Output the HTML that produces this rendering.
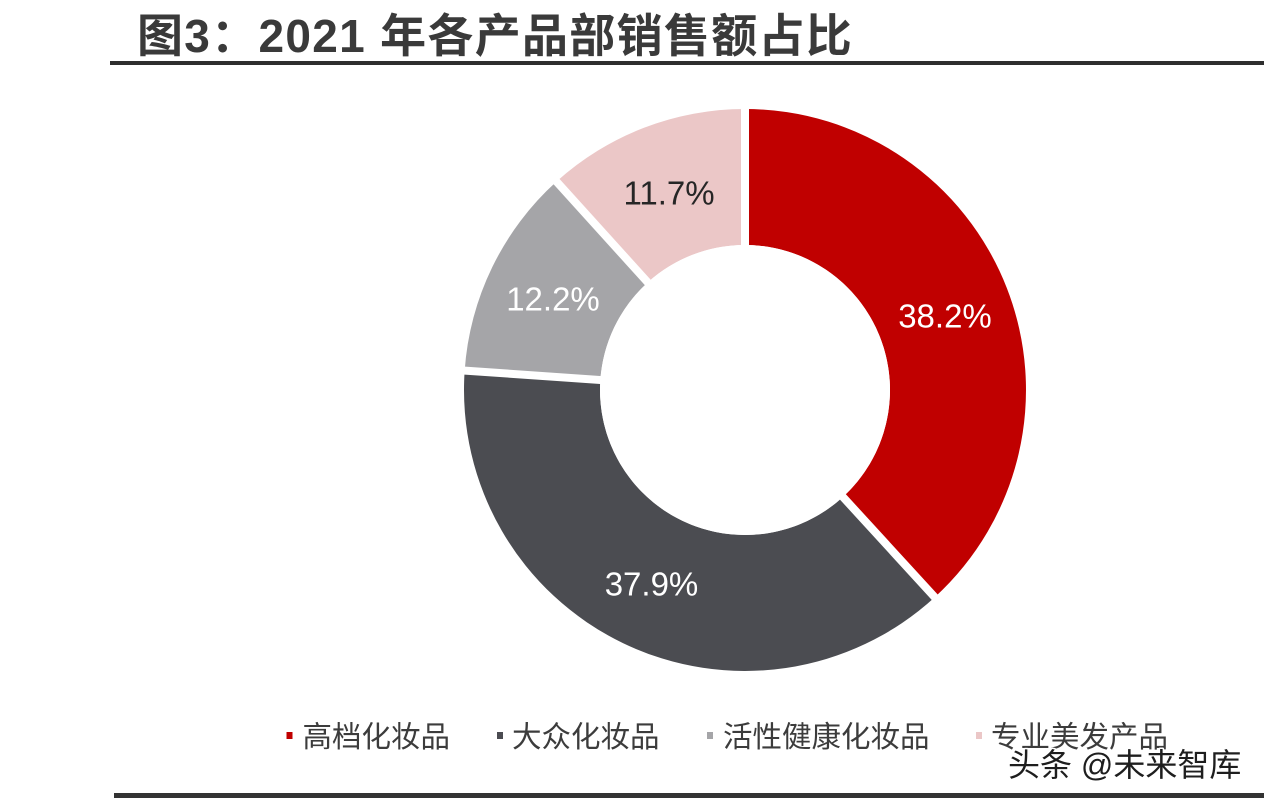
<!DOCTYPE html>
<html>
<head>
<meta charset="utf-8">
<style>
  html, body { margin: 0; padding: 0; background: #ffffff; }
  body { width: 1264px; height: 798px; overflow: hidden; }
  svg { display: block; }
</style>
</head>
<body>
<svg width="1264" height="798" viewBox="0 0 1264 798" xmlns="http://www.w3.org/2000/svg">
  <rect x="0" y="0" width="1264" height="798" fill="#ffffff"/>

  <!-- Title -->
  <text x="137" y="52" font-family="'Liberation Sans','Noto Sans CJK SC',sans-serif" font-weight="bold" font-size="46" letter-spacing="1.3" fill="#3a3a3a">图3：2021 年各产品部销售额占比</text>
  <rect x="110" y="61" width="1154" height="4" fill="#2e2e2e"/>

  <!-- Donut slices -->
  <g transform="translate(-0.5,0)">
    <path d="M 745.5 109 A 281 281 0 0 1 935.26 597.24 L 843.42 496.94 A 145 145 0 0 0 745.5 245 Z" fill="#C00000"/>
    <path d="M 935.26 597.24 A 281 281 0 0 1 465.17 370.59 L 600.85 379.99 A 145 145 0 0 0 843.42 496.94 Z" fill="#4B4C51"/>
    <path d="M 465.17 370.59 A 281 281 0 0 1 557.03 181.55 L 648.25 282.44 A 145 145 0 0 0 600.85 379.99 Z" fill="#A5A5A8"/>
    <path d="M 557.03 181.55 A 281 281 0 0 1 745.5 109 L 745.5 245 A 145 145 0 0 0 648.25 282.44 Z" fill="#EBC7C7"/>

    <!-- white separators -->
    <g stroke="#ffffff" stroke-width="8" stroke-linecap="butt">
      <line x1="745.5" y1="390" x2="745.5" y2="100"/>
      <line x1="745.5" y1="390" x2="941.34" y2="603.88"/>
      <line x1="745.5" y1="390" x2="456.19" y2="369.97"/>
      <line x1="745.5" y1="390" x2="551.01" y2="174.88"/>
    </g>
    <circle cx="745.5" cy="390" r="145" fill="#ffffff"/>
  </g>

  <!-- Percent labels -->
  <g font-family="'Liberation Sans',sans-serif" font-size="33" text-anchor="middle">
    <text x="945" y="327.5" fill="#ffffff">38.2%</text>
    <text x="651.5" y="595.5" fill="#ffffff">37.9%</text>
    <text x="553" y="310.5" fill="#ffffff">12.2%</text>
    <text x="669" y="204.5" fill="#262626">11.7%</text>
  </g>

  <!-- Legend -->
  <rect x="286.5" y="732" width="6" height="7" fill="#C00000"/>
  <rect x="497" y="732" width="6" height="7" fill="#4B4C51"/>
  <rect x="707" y="732" width="6" height="7" fill="#A5A5A8"/>
  <rect x="976" y="732" width="6" height="7" fill="#EBC7C7"/>
  <g font-family="'Liberation Sans','Noto Sans CJK SC',sans-serif" font-size="29.5" fill="#3c3c3c">
    <text x="302.5" y="747">高档化妆品</text>
    <text x="512" y="747">大众化妆品</text>
    <text x="723" y="747">活性健康化妆品</text>
    <text x="991" y="747">专业美发产品</text>
  </g>

  <!-- Watermark -->
  <text x="1008" y="776" font-family="'Liberation Sans','Noto Sans CJK SC',sans-serif" font-size="32" fill="#1e1e1e" stroke="#ffffff" stroke-width="3" paint-order="stroke" stroke-linejoin="round">头条 @未来智库</text>

  <!-- Bottom rule -->
  <rect x="114" y="793" width="1150" height="5" fill="#333333"/>
</svg>
</body>
</html>
